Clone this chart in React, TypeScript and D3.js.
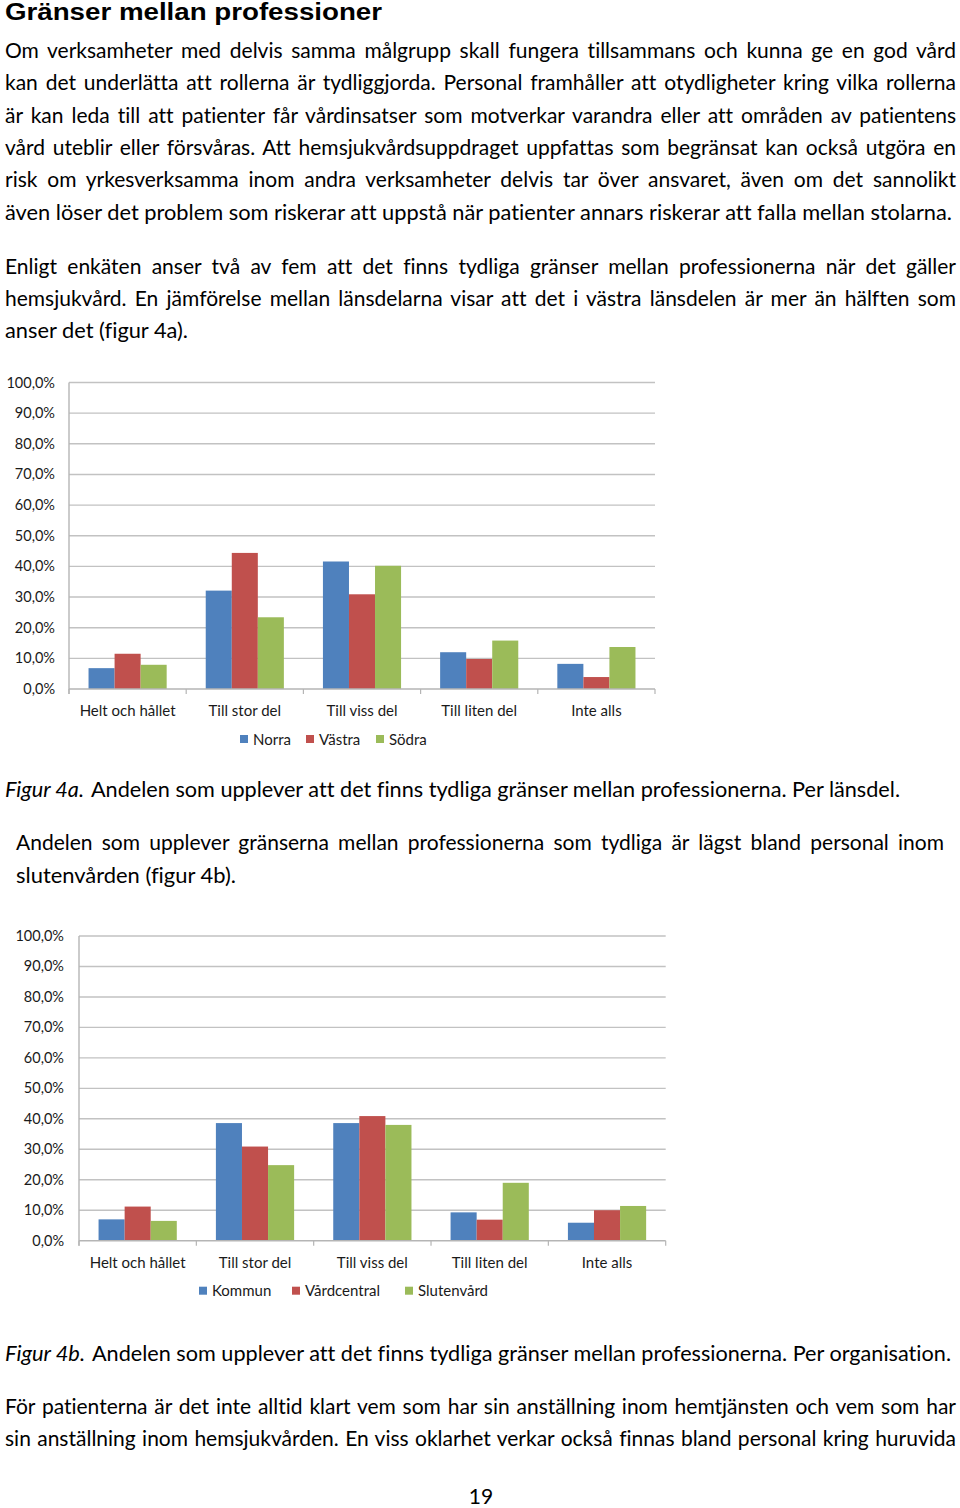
import React, { useLayoutEffect, useRef } from "react";
import * as d3 from "d3";

// ---------- data ----------
const categories = ["Helt och hållet", "Till stor del", "Till viss del", "Till liten del", "Inte alls"];

const seriesA = ["Norra", "Västra", "Södra"];
const norra = [6.8, 32.1, 41.6, 12.0, 8.2];
const vastra = [11.5, 44.4, 30.9, 9.8, 3.9];
const sodra = [7.9, 23.4, 40.2, 15.8, 13.7];

const seriesB = ["Kommun", "Vårdcentral", "Slutenvård"];
const kommun = [7.0, 38.6, 38.6, 9.3, 5.9];
const vardcentral = [11.2, 30.9, 40.9, 6.9, 10.0];
const slutenvard = [6.5, 24.8, 38.0, 19.0, 11.4];

const yTicks = [0, 10, 20, 30, 40, 50, 60, 70, 80, 90, 100];

const COLORS = ["#4F81BD", "#C0504D", "#9BBB59"];
const FONT = "Lato, 'Open Sans', sans-serif";
const NOLIG = { fontVariantLigatures: "none" as const };

const fmtPct = (v: number) => d3.format(".1f")(v).replace(".", ",") + "%";

// ---------- text helpers ----------
type LineProps = {
  x: number;
  y: number;
  w?: number;
  text: string;
  justify?: boolean;
  italic?: boolean;
  size?: number;
  weight?: string | number;
  family?: string;
  anchor?: string;
};

function Line({ x, y, w, text, justify, italic, size = 21, weight = 400, family = FONT, anchor = "start" }: LineProps) {
  const ref = useRef<SVGTextElement>(null);
  useLayoutEffect(() => {
    const el = ref.current;
    if (!el || !w) return;
    el.removeAttribute("textLength");
    el.removeAttribute("lengthAdjust");
    el.style.wordSpacing = "0px";
    const nat = el.getComputedTextLength();
    const spaces = (text.match(/ /g) || []).length;
    if (justify && nat < w && spaces > 0) {
      el.style.wordSpacing = `${(w - nat) / spaces}px`;
    } else if (Math.abs(nat - w) > 1) {
      el.setAttribute("textLength", String(w));
      el.setAttribute("lengthAdjust", "spacingAndGlyphs");
    }
  }, [text, w, justify]);
  return (
    <text
      ref={ref}
      x={x}
      y={y}
      fontFamily={family}
      fontSize={size}
      fontStyle={italic ? "italic" : "normal"}
      fontWeight={weight}
      fill="#000"
      textAnchor={anchor}
      style={{ whiteSpace: "pre", ...NOLIG }}
    >
      {text}
    </text>
  );
}

// ---------- chart ----------
type ChartProps = {
  x0: number;
  x1: number;
  yTop: number;
  yBase: number;
  names: string[];
  values: number[][];
  legendX: number[];
  labelOffset: number;
};

function Chart({ x0, x1, yTop, yBase, names, values, legendX, labelOffset }: ChartProps) {
  const y = d3.scaleLinear().domain([0, 100]).range([yBase, yTop]);
  const xb = d3.scaleBand<string>().domain(categories).range([x0, x1]).padding(0);
  const bw = xb.bandwidth();
  const xi = d3.scaleBand<string>().domain(names).range([bw / 6, (bw * 5) / 6]).padding(0);
  const boundaries = categories.map((c) => xb(c) as number).concat([x1]);
  const grid = "#C2C2C2";
  const fs = 15;
  return (
    <g style={NOLIG}>
      {yTicks.map((t) => (
        <g key={t}>
          {t > 0 && <line x1={x0} x2={x1} y1={y(t)} y2={y(t)} stroke={grid} strokeWidth={1.4} />}
          <text
            x={x0 - labelOffset}
            y={y(t) + 5}
            textAnchor="end"
            fontFamily={FONT}
            fontSize={14.5}
            fill="#1a1a1a"
          >
            {fmtPct(t)}
          </text>
        </g>
      ))}
      {categories.map((c, ci) =>
        names.map((n, si) => (
          <rect
            key={c + n}
            x={(xb(c) as number) + (xi(n) as number)}
            y={y(values[si][ci])}
            width={xi.bandwidth()}
            height={yBase - y(values[si][ci])}
            fill={COLORS[si]}
          />
        ))
      )}
      <line x1={x0} x2={x1} y1={yBase} y2={yBase} stroke="#B5B5B5" strokeWidth={1.4} />
      <line x1={x0} x2={x0} y1={yTop} y2={yBase + 5} stroke="#B5B5B5" strokeWidth={1.4} />
      {boundaries.map((bx, i) => (
        <line key={i} x1={bx} x2={bx} y1={yBase} y2={yBase + 5} stroke="#B5B5B5" strokeWidth={1.2} />
      ))}
      {categories.map((c) => (
        <text
          key={c}
          x={(xb(c) as number) + bw / 2}
          y={yBase + 27}
          textAnchor="middle"
          fontFamily={FONT}
          fontSize={fs}
          fill="#1a1a1a"
        >
          {c}
        </text>
      ))}
      {names.map((n, i) => (
        <g key={n}>
          <rect x={legendX[i]} y={yBase + 46} width={8} height={8} fill={COLORS[i]} />
          <text x={legendX[i] + 13} y={yBase + 55.5} fontFamily={FONT} fontSize={fs} fill="#1a1a1a">
            {n}
          </text>
        </g>
      ))}
    </g>
  );
}

export default function App() {
  const L = 5;
  const R = 956;
  const full = R - L;
  return (
    <div style={{ position: "absolute", left: 0, top: 0 }}>
      <svg width={960} height={1508} viewBox="0 0 960 1508" style={{ display: "block", background: "#fff" }}>
        <rect width={960} height={1508} fill="#fff" />
        <Line x={5} y={20} w={377} text="Gränser mellan professioner" size={23} weight={700}
          family="'Liberation Sans', Arial, sans-serif" />

        <Line x={L} y={58} w={full} justify text="Om verksamheter med delvis samma målgrupp skall fungera tillsammans och kunna ge en god vård" />
        <Line x={L} y={90} w={full} justify text="kan det underlätta att rollerna är tydliggjorda. Personal framhåller att otydligheter kring vilka rollerna" />
        <Line x={L} y={123} w={full} justify text="är kan leda till att patienter får vårdinsatser som motverkar varandra eller att områden av patientens" />
        <Line x={L} y={155} w={full} justify text="vård uteblir eller försvåras. Att hemsjukvårdsuppdraget uppfattas som begränsat kan också utgöra en" />
        <Line x={L} y={187} w={full} justify text="risk om yrkesverksamma inom andra verksamheter delvis tar över ansvaret, även om det sannolikt" />
        <Line x={L} y={220} w={947} text="även löser det problem som riskerar att uppstå när patienter annars riskerar att falla mellan stolarna." />

        <Line x={L} y={274} w={full} justify text="Enligt enkäten anser två av fem att det finns tydliga gränser mellan professionerna när det gäller" />
        <Line x={L} y={306} w={full} justify text="hemsjukvård. En jämförelse mellan länsdelarna visar att det i västra länsdelen är mer än hälften som" />
        <Line x={L} y={338} w={183} text="anser det (figur 4a)." />

        <Chart x0={69} x1={655} yTop={382.5} yBase={689} names={seriesA} values={[norra, vastra, sodra]}
          legendX={[240, 306, 376]} labelOffset={14} />

        <Line x={L} y={797} w={79} italic text="Figur 4a." />
        <Line x={91} y={797} w={809} text="Andelen som upplever att det finns tydliga gränser mellan professionerna. Per länsdel." />

        <Line x={16} y={850} w={928} justify text="Andelen som upplever gränserna mellan professionerna som tydliga är lägst bland personal inom" />
        <Line x={16} y={883} w={220} text="slutenvården (figur 4b)." />

        <Chart x0={79} x1={665.7} yTop={936} yBase={1240.7} names={seriesB} values={[kommun, vardcentral, slutenvard]}
          legendX={[199, 292, 405]} labelOffset={15} />

        <Line x={L} y={1361} w={80} italic text="Figur 4b." />
        <Line x={92} y={1361} w={859} text="Andelen som upplever att det finns tydliga gränser mellan professionerna. Per organisation." />

        <Line x={L} y={1414} w={full} justify text="För patienterna är det inte alltid klart vem som har sin anställning inom hemtjänsten och vem som har" />
        <Line x={L} y={1446} w={full} justify text="sin anställning inom hemsjukvården. En viss oklarhet verkar också finnas bland personal kring huruvida" />

        <Line x={481} y={1504} text="19" anchor="middle" />
      </svg>
    </div>
  );
}
